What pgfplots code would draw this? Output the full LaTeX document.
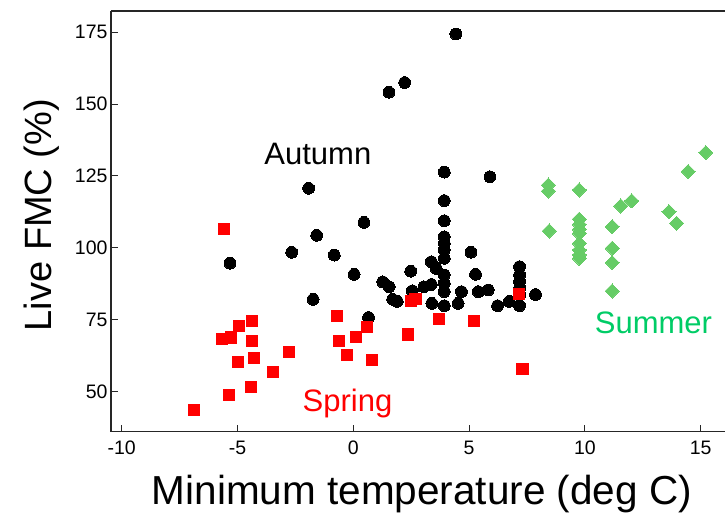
\documentclass[border=0pt]{standalone}
\usepackage{fontspec}
\setmainfont{Liberation Sans}
\usepackage{pgfplots}
\pgfplotsset{compat=1.18}
\definecolor{sgreen}{RGB}{102,204,102}
\definecolor{stext}{RGB}{0,204,102}
\definecolor{sred}{RGB}{255,0,0}
\begin{document}
\begin{tikzpicture}
\begin{axis}[
  scale only axis, width=614pt, height=420.7pt,
  xmin=-10.46, xmax=16.05, ymin=35.93, ymax=182.4,
  xtick={-10,-5,0,5,10,15}, ytick={50,75,100,125,150,175},
  xtick pos=left, ytick pos=left,
  tick align=inside, major tick length=7pt,
  tick style={black!85, line width=1pt},
  axis line style={draw=none},
  ticklabel style={font=\fontsize{19.5}{22}\selectfont},
  /pgf/number format/assume math mode=true,
  xticklabel style={yshift=-6pt},
  clip=false,
  xlabel={Minimum temperature (deg C)},
  ylabel={Live FMC (\%)},
  xlabel style={font=\fontsize{40.5}{44}\selectfont, at={(axis description cs:0.5065,0)}, anchor=base, yshift=-72.3pt},
  ylabel style={font=\fontsize{38}{42}\selectfont, at={(axis description cs:-0.0977,0.515)}, anchor=base, rotate=0},
  only marks,
]
\draw[black!85, line width=1.4pt] (rel axis cs:0,0) -- (rel axis cs:1,0);
\draw[black!85, line width=1.4pt] (rel axis cs:0,0) -- (rel axis cs:0,1);
\draw[black!85, line width=1.8pt] (rel axis cs:0,1) -- (rel axis cs:1,1);
\coordinate (A) at (rel axis cs:0,0);
\coordinate (B) at (rel axis cs:1,1);

% Autumn
\addplot[mark=*, mark size=5.9pt, mark options={fill=black, draw=black, line width=0pt}] coordinates {
(4.43,174.4) (1.54,154.1) (2.22,157.5) (-1.93,120.7) (-1.58,104.3) (-2.66,98.4)
(-0.82,97.4) (0.46,108.8) (-5.32,94.6) (0.04,90.7) (-1.73,82.0) (1.27,88.1)
(1.55,86.4) (1.70,82.0) (1.90,81.3) (2.48,91.8) (2.55,85.0) (0.66,75.7)
(3.93,126.3) (5.90,124.7)
(3.93,116.4) (3.93,109.4) (3.93,103.8) (3.93,101.5) (3.93,99.2) (3.93,96.3)
(3.93,90.5) (3.93,87.6) (3.93,84.7) (3.93,79.8)
(5.08,98.4) (5.28,90.7) (3.37,95.1) (3.58,92.8) (3.05,86.4) (3.37,87.2)
(3.39,80.6) (4.53,80.6) (4.67,84.7) (5.40,84.7) (5.83,85.3) (6.23,79.8)
(6.74,81.3)
(7.18,93.4) (7.18,90.5) (7.18,88.2) (7.18,85.9) (7.18,83.5) (7.18,79.8)
(7.87,83.7)
};
% Spring
\addplot[mark=square*, mark size=5.6pt, mark options={fill=sred, draw=sred, line width=0pt}] coordinates {
(-5.58,106.4) (-5.66,68.1) (-5.29,68.7) (-4.92,72.8) (-4.36,74.6) (-4.36,67.5)
(-4.97,60.3) (-4.30,61.5) (-2.79,63.6) (-3.48,56.6) (-4.42,51.4) (-5.38,48.6)
(-6.88,43.5) (-0.69,76.2) (-0.63,67.5) (-0.28,62.6) (0.12,68.8) (0.58,72.4)
(0.81,60.9) (2.36,69.8) (2.48,81.3) (2.69,82.2) (3.71,75.2) (5.21,74.6)
(7.17,83.9) (7.31,57.7)
};
% Summer
\addplot[mark=square*, mark size=5pt, mark options={fill=sgreen, draw=sgreen, line width=0pt, rotate=45}] coordinates {
(8.42,121.8) (8.42,119.7) (8.46,105.8) (9.76,120.1)
(9.76,109.9) (9.76,108.1) (9.76,106.4) (9.76,105.0) (9.76,101.5) (9.76,99.2)
(9.76,97.5) (9.76,96.3)
(11.18,107.3) (11.18,99.8) (11.18,94.8) (11.18,84.9)
(11.55,114.5) (12.02,116.3) (13.63,112.5) (13.96,108.5) (14.46,126.5) (15.22,133.1)
};

\node[font=\fontsize{31}{34}\selectfont, text=black] at (axis cs:-1.53,132.6) {Autumn};
\node[font=\fontsize{31}{34}\selectfont, text=sred] at (axis cs:-0.25,45.9) {Spring};
\node[font=\fontsize{31}{34}\selectfont, text=stext] at (axis cs:12.96,73.8) {Summer};
\end{axis}
\pgfresetboundingbox
\path[use as bounding box] ([shift={(-111pt,-80.3pt)}]A) rectangle ([shift={(0pt,11pt)}]B);
\end{tikzpicture}
\end{document}
